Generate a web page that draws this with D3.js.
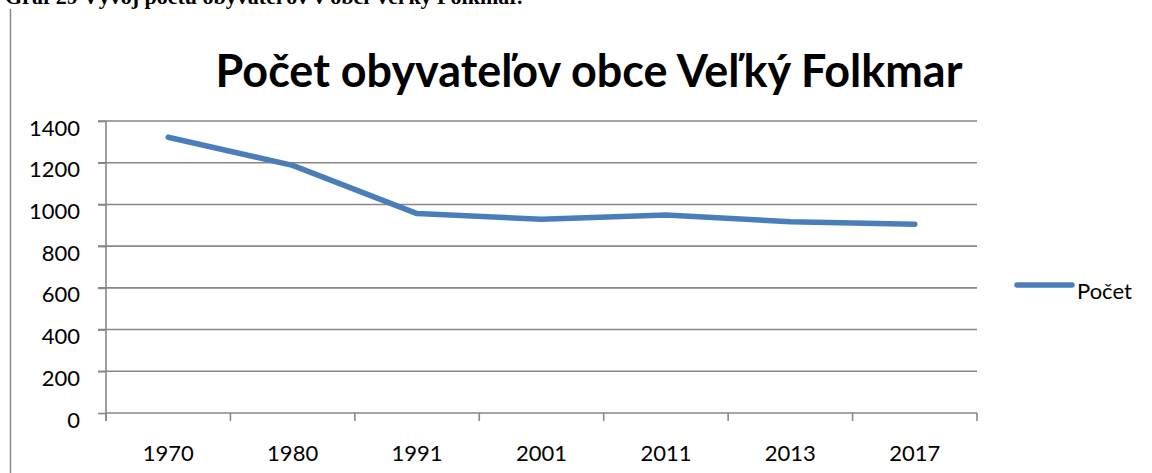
<!DOCTYPE html>
<html>
<head>
<meta charset="utf-8">
<script src="https://cdn.jsdelivr.net/npm/d3@7"></script>
<style>
  html, body { margin: 0; padding: 0; background: #fff; }
  svg { display: block; }
</style>
</head>
<body>
<svg id="svg" width="1152" height="473"></svg>
<script>
const years = ["1970", "1980", "1991", "2001", "2011", "2013", "2017"];
const population = [1322, 1187, 956, 929, 949, 917, 905];
const yTicks = [0, 200, 400, 600, 800, 1000, 1200, 1400];
const chartTitle = "Počet obyvateľov obce Veľký Folkmar";
const seriesName = "Počet";
const caption = "Graf 29 Vývoj počtu obyvateľov v obci Veľký Folkmar.";

draw();

function draw({
    left = 106,
    right = 977,
    top = 121,
    bottom = 413,
    gridColor = "#878787",
    lineColor = "#4a7ebb",
    labelFont = "Lato, 'Open Sans', sans-serif",
    labelSize = 22
} = {}) {
    const svg = d3.select("#svg");

    const x = d3.scaleBand().domain(years).range([left, right]);
    const y = d3.scaleLinear().domain([0, 1400]).range([bottom, top]);

    // caption of the document, cut off at the top like in the original
    svg.append("text")
        .attr("x", 5)
        .attr("y", 4)
        .attr("font-family", "'Liberation Serif', 'DejaVu Serif', serif")
        .attr("font-weight", "bold")
        .attr("font-size", 22)
        .text(caption);

    // frame line on the left
    svg.append("line")
        .attr("x1", 10.5).attr("x2", 10.5)
        .attr("y1", 9).attr("y2", 473)
        .attr("stroke", "#8a8a8a")
        .attr("stroke-width", 1.5);

    // title, fitted to the width of the original
    const title = svg.append("text")
        .attr("x", 589)
        .attr("y", 87)
        .attr("text-anchor", "middle")
        .attr("font-family", "Lato, 'Open Sans', sans-serif")
        .attr("font-weight", "bold")
        .attr("font-size", 40)
        .text(chartTitle);
    const tw = title.node().getComputedTextLength();
    title.attr("font-size", 40 * 747 / tw);

    // gridlines
    svg.append("g")
        .selectAll("line")
        .data(yTicks.filter(d => d > 0))
        .join("line")
        .attr("x1", left - 8)
        .attr("x2", right)
        .attr("y1", d => y(d))
        .attr("y2", d => y(d))
        .attr("stroke", gridColor)
        .attr("stroke-width", 1.6);

    // y axis
    const yAxis = svg.append("g")
        .attr("transform", `translate(${left},0)`)
        .call(d3.axisLeft(y).tickValues(yTicks).tickFormat(d3.format("d"))
            .tickSize(8).tickPadding(0).tickSizeOuter(0));
    yAxis.select(".domain").attr("stroke", gridColor).attr("stroke-width", 1.6)
        .attr("d", `M0,${top}V${bottom + 8}`);
    yAxis.selectAll(".tick line").attr("stroke", gridColor).attr("stroke-width", 1.6);
    yAxis.selectAll(".tick text")
        .attr("x", -26)
        .attr("dy", 14)
        .attr("font-family", labelFont)
        .attr("font-size", labelSize)
        .attr("fill", "#000");

    // x axis, ticks on category boundaries
    svg.append("line")
        .attr("x1", left).attr("x2", right)
        .attr("y1", bottom).attr("y2", bottom)
        .attr("stroke", gridColor)
        .attr("stroke-width", 1.6);

    const bounds = years.map(d => x(d)).concat([right]);
    svg.append("g")
        .selectAll("line")
        .data(bounds)
        .join("line")
        .attr("x1", d => d).attr("x2", d => d)
        .attr("y1", bottom).attr("y2", bottom + 8)
        .attr("stroke", gridColor)
        .attr("stroke-width", 1.6);

    svg.append("g")
        .selectAll("text")
        .data(years)
        .join("text")
        .attr("x", d => x(d) + x.bandwidth() / 2)
        .attr("y", 461)
        .attr("text-anchor", "middle")
        .attr("font-family", labelFont)
        .attr("font-size", labelSize)
        .text(d => d);

    // series line
    const line = d3.line()
        .x((d, i) => x(years[i]) + x.bandwidth() / 2)
        .y(d => y(d));

    svg.append("path")
        .datum(population)
        .attr("d", line)
        .attr("fill", "none")
        .attr("stroke", lineColor)
        .attr("stroke-width", 5.5)
        .attr("stroke-linecap", "round")
        .attr("stroke-linejoin", "round");

    // legend
    const legend = svg.append("g").attr("transform", "translate(1017,285)");
    legend.append("line")
        .attr("x1", 0).attr("x2", 55)
        .attr("stroke", lineColor)
        .attr("stroke-width", 5.5)
        .attr("stroke-linecap", "round");
    legend.append("text")
        .attr("x", 60)
        .attr("y", 14)
        .attr("font-family", labelFont)
        .attr("font-size", labelSize)
        .text(seriesName);
}
</script>
</body>
</html>
